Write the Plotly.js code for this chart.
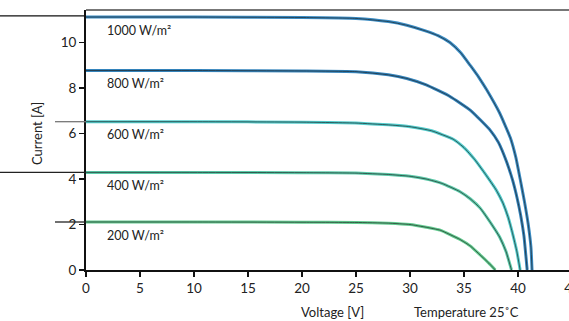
<!DOCTYPE html>
<html>
<head>
<meta charset="utf-8">
<script src="https://cdn.plot.ly/plotly-3.0.1.min.js"></script>
<style>
html,body{margin:0;padding:0;overflow:hidden;background:#fff;}
#chart{width:600px;height:321px;}
</style>
</head>
<body>
<div id="chart"></div>
<script>
// Irradiance levels (W/m²) and read-off I-V curves
const irradianceLabels = ["1000 W/m²", "800 W/m²", "600 W/m²", "400 W/m²", "200 W/m²"];

const v1000 = [0, 10, 20, 25, 28, 29.7, 31.5, 32.6, 33.7, 34.7, 35.6, 36.4, 37.1, 38.3, 39.3, 39.8, 40.2, 40.6, 40.95, 41.2, 41.3];
const i1000 = [11.12, 11.12, 11.1, 11.06, 10.92, 10.76, 10.5, 10.3, 10.0, 9.55, 8.98, 8.45, 7.92, 6.9, 5.8, 4.95, 4.0, 3.0, 2.0, 1.0, 0];

const v800 = [0, 10, 20, 25, 28, 29.7, 31.5, 33.7, 35.6, 37.4, 38.2, 38.95, 39.5, 39.9, 40.25, 40.55, 40.85];
const i800 = [8.77, 8.77, 8.75, 8.72, 8.58, 8.42, 8.14, 7.63, 7.02, 6.16, 5.6, 4.75, 3.95, 3.2, 2.4, 1.5, 0];

const v600 = [0, 10, 20, 25, 28, 30, 32, 34, 35, 36, 37, 38, 38.6, 39.1, 39.5, 39.9, 40.2];
const i600 = [6.52, 6.52, 6.5, 6.46, 6.38, 6.3, 6.12, 5.75, 5.38, 4.85, 4.2, 3.5, 2.95, 2.3, 1.6, 0.8, 0];

const v400 = [0, 10, 20, 25, 28, 30, 31.5, 33, 34.6, 35.6, 36.5, 37.4, 38.3, 38.9, 39.4];
const i400 = [4.29, 4.29, 4.28, 4.26, 4.2, 4.12, 4.0, 3.8, 3.45, 3.12, 2.72, 2.12, 1.45, 0.8, 0];

const v200 = [0, 10, 20, 25, 28, 30, 31.5, 32.8, 34.6, 35.6, 36.5, 37.3, 37.9];
const i200 = [2.11, 2.11, 2.1, 2.09, 2.06, 2.0, 1.88, 1.75, 1.35, 1.05, 0.66, 0.3, 0];

const xTicks = [0, 5, 10, 15, 20, 25, 30, 35, 40, 45];
const yTicks = [0, 2, 4, 6, 8, 10];

const seriesV = [v1000, v800, v600, v400, v200];
const seriesI = [i1000, i800, i600, i400, i200];
const colors = ["#3a8cc4", "#3484bc", "#52cccc", "#5ccbaa", "#62cc90"];

const traces = [];
seriesV.forEach((v, k) => {
  traces.push({x: v, y: seriesI[k], mode: "lines", line: {color: colors[k], width: 3, shape: "spline", smoothing: 0.4}, hoverinfo: "skip", showlegend: false});
  traces.push({x: v, y: seriesI[k], mode: "lines", opacity: 0.85, line: {color: "#1a1a1a", width: 0.75, shape: "spline", smoothing: 0.4}, hoverinfo: "skip", showlegend: false});
});

const font = "Lato, 'Open Sans', sans-serif";
const annotations = irradianceLabels.map((t, k) => ({
  text: t, x: 1.8, y: seriesI[k][0] - 0.58, xref: "x", yref: "y",
  xanchor: "left", yanchor: "middle", showarrow: false,
  font: {family: font, size: 12.5, color: "#222"}
}));
annotations.push({text: "Voltage [V]", xref: "paper", yref: "paper", x: (332 - 86) / 486, y: -0.162, xanchor: "center", yanchor: "middle", showarrow: false, font: {family: font, size: 13, color: "#222"}});
annotations.push({text: "Temperature 25˚C", xref: "paper", yref: "paper", x: (466 - 86) / 486, y: -0.162, xanchor: "center", yanchor: "middle", showarrow: false, font: {family: font, size: 13, color: "#222"}});
annotations.push({text: "Current [A]", xref: "paper", yref: "paper", x: (37 - 86) / 486, y: (270 - 134) / 260, xanchor: "center", yanchor: "middle", textangle: -90, showarrow: false, font: {family: font, size: 13, color: "#222"}});

const px = p => (p - 86) / 486;
const shapes = [
  {type: "line", xref: "paper", yref: "paper", x0: 0, x1: 1, y0: 1, y1: 1, line: {color: "#777", width: 2}},
  {type: "line", xref: "paper", yref: "y", x0: px(0), x1: 0, y0: seriesI[0][0] + 0.05, y1: seriesI[0][0] + 0.05, line: {color: "#111", width: 1.3}},
  {type: "line", xref: "paper", yref: "y", x0: px(55), x1: 0, y0: seriesI[2][0], y1: seriesI[2][0], line: {color: "#777", width: 1.3}},
  {type: "line", xref: "paper", yref: "y", x0: px(0), x1: 0, y0: seriesI[3][0], y1: seriesI[3][0], line: {color: "#222", width: 1.3}},
  {type: "line", xref: "paper", yref: "y", x0: px(55), x1: 0, y0: seriesI[4][0], y1: seriesI[4][0], line: {color: "#222", width: 1.3}}
];

const layout = {
  width: 600, height: 321,
  margin: {l: 86, r: 28, t: 10, b: 51},
  paper_bgcolor: "#fff", plot_bgcolor: "#fff",
  font: {family: font, size: 13, color: "#222"},
  xaxis: {range: [0, 45], tickvals: xTicks, ticktext: xTicks.map(String), showgrid: false, zeroline: false,
          showline: true, linecolor: "#111", linewidth: 2, ticks: "outside", ticklen: 5, tickwidth: 1.5, tickcolor: "#111",
          tickfont: {family: font, size: 13.5, color: "#222"}},
  yaxis: {range: [0, 11.43], tickvals: yTicks, ticktext: yTicks.map(String), showgrid: false, zeroline: false,
          showline: true, linecolor: "#111", linewidth: 2, ticks: "outside", ticklen: 5, tickwidth: 1.5, tickcolor: "#111",
          tickfont: {family: font, size: 13.5, color: "#222"}},
  annotations: annotations,
  shapes: shapes,
  showlegend: false
};

Plotly.newPlot("chart", traces, layout, {staticPlot: true, displayModeBar: false});
</script>
</body>
</html>
